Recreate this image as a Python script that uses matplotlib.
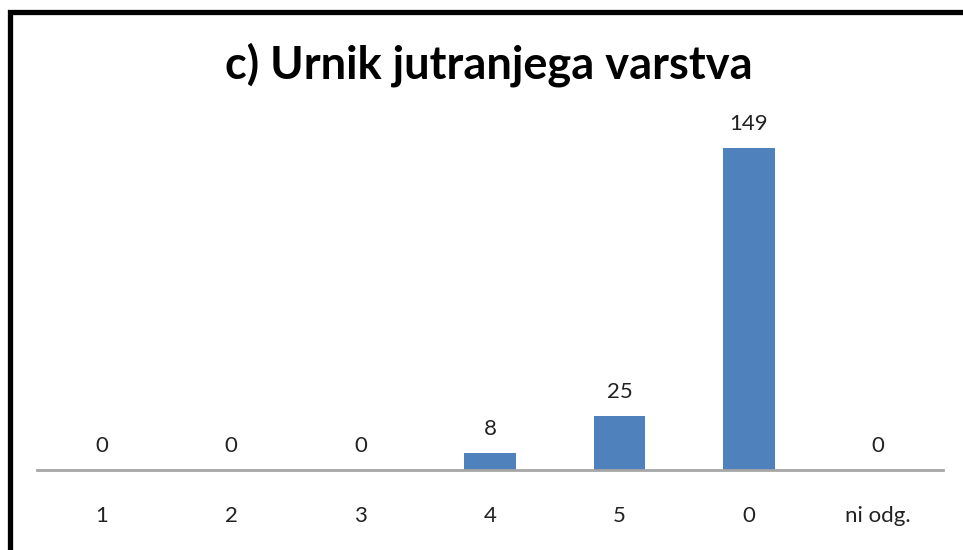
import matplotlib
matplotlib.use("Agg")
import matplotlib.pyplot as plt
from matplotlib.patches import Rectangle

categories = ["1", "2", "3", "4", "5", "0", "ni odg."]
values = [0, 0, 0, 8, 25, 149, 0]

plt.rcParams['font.family'] = ['Lato', 'DejaVu Sans']

fig = plt.figure(figsize=(9.63, 5.5), dpi=100)
W, H = 963, 550
# plot area in pixels: x 37..943, baseline y=470, top y=124
ax = fig.add_axes([37 / W, (H - 470) / H, 906 / W, (470 - 124) / H])

x = range(len(categories))
ax.bar(x, values, width=0.4, color="#4F81BD")
for xi, v in zip(x, values):
    ax.annotate(str(v), (xi, v), xytext=(0, 10), textcoords="offset points",
                ha="center", va="bottom", fontsize=16, color="#222222")

ax.set_xlim(-0.5, len(categories) - 0.5)
ax.set_ylim(0, 160)
ax.set_xticks(list(x))
ax.set_xticklabels(categories, fontsize=16, color="#222222")
ax.tick_params(axis="x", length=0, pad=26)
ax.set_yticks([])
for s in ["top", "right", "left"]:
    ax.spines[s].set_visible(False)
ax.spines["bottom"].set_color("#A6A6A6")
ax.spines["bottom"].set_linewidth(2)

fig.text(489 / W, 1 - 65 / H, "c) Urnik jutranjega varstva", ha="center", va="center",
         fontsize=32.5, fontweight="bold", color="black")

# black frame on top and left edges
fig.add_artist(Rectangle((9.5 / W, -0.1), 1.2, 1.1 - 11.5 / H, transform=fig.transFigure,
                         fill=False, edgecolor="black", linewidth=3.8))

fig.savefig("out.png", dpi=100)
